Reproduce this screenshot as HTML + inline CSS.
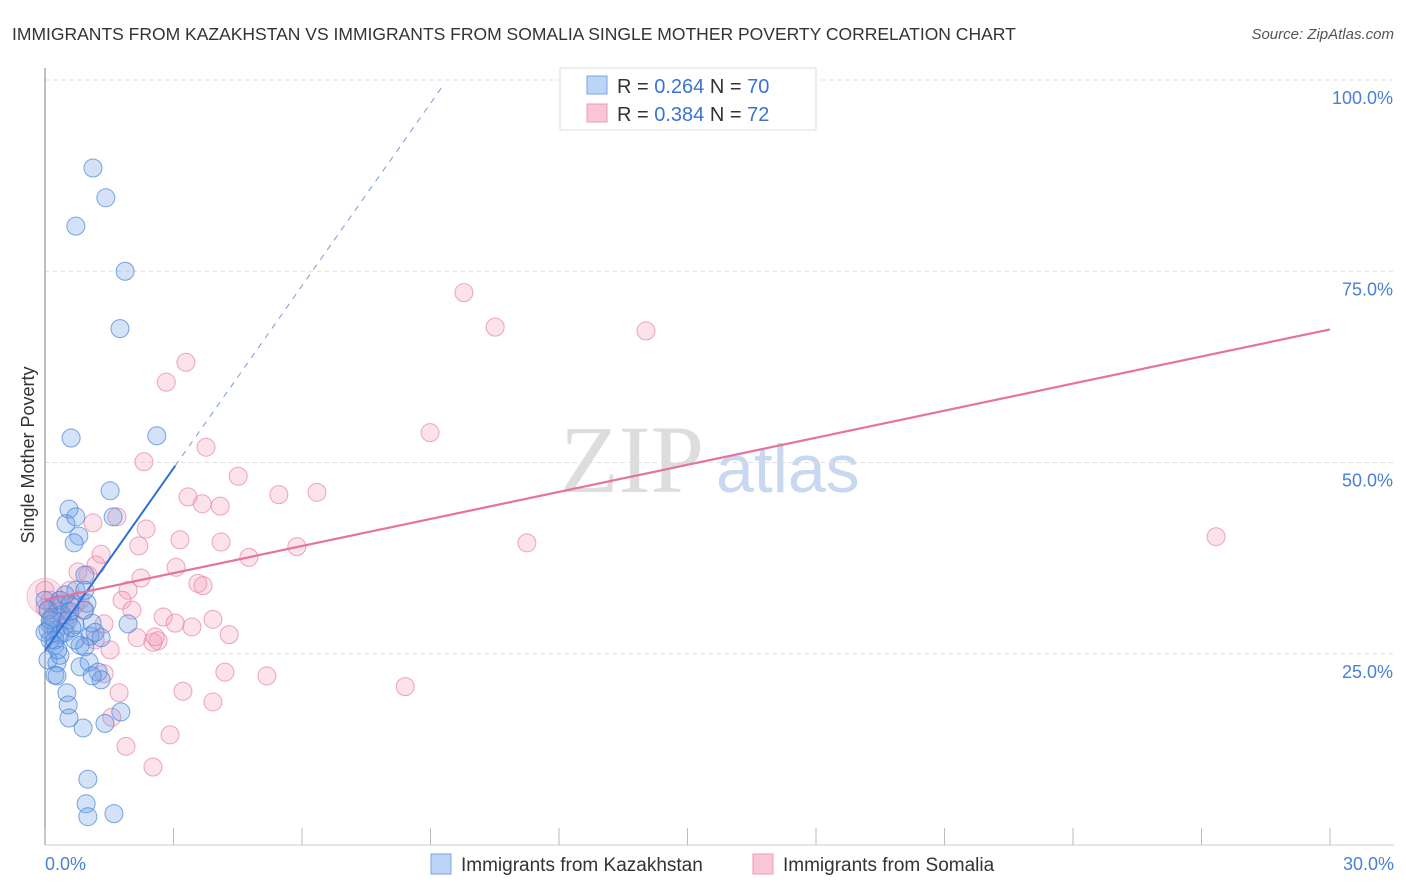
<!DOCTYPE html>
<html><head><meta charset="utf-8"><style>
body{margin:0;background:#fff;font-family:"Liberation Sans",sans-serif;}
svg{display:block}
</style></head><body>
<svg width="1406" height="892">
<text x="12" y="40" font-size="17.5" fill="#333">IMMIGRANTS FROM KAZAKHSTAN VS IMMIGRANTS FROM SOMALIA SINGLE MOTHER POVERTY CORRELATION CHART</text>
<text x="1394" y="39" font-size="15" fill="#555" font-style="italic" text-anchor="end">Source: ZipAtlas.com</text>
<text x="560" y="492" font-size="96" fill="#ddd" font-family="Liberation Serif,serif">ZIP</text>
<text x="716" y="492" font-size="68" fill="#c8d8f0">atlas</text>
<g id="grid"></g>
<line x1="45" y1="68" x2="45" y2="845" stroke="#aaa" stroke-width="1.5"/>
<line x1="45" y1="845" x2="1394" y2="845" stroke="#ccc"/>
<g id="xticks"></g>
<text transform="translate(34,455) rotate(-90)" font-size="18" fill="#333" text-anchor="middle">Single Mother Poverty</text>
<g id="pts"></g>
<g id="lines"></g>
<g>
<rect x="560" y="68" width="256" height="62" fill="#fff" stroke="#ddd"/>
<rect x="587" y="76" width="20" height="18" fill="#bcd4f5" stroke="#7aa5e5"/>
<rect x="587" y="104" width="20" height="18" fill="#f8c6d6" stroke="#eb9ab5"/>
<text x="617" y="93" font-size="20" fill="#333">R = <tspan fill="#3a74d0">0.264</tspan>   N = <tspan fill="#3a74d0">70</tspan></text>
<text x="617" y="121" font-size="20" fill="#333">R = <tspan fill="#3a74d0">0.384</tspan>   N = <tspan fill="#3a74d0">72</tspan></text>
</g>
<g>
<rect x="431" y="854" width="20" height="20" fill="#bcd4f5" stroke="#7aa5e5"/>
<text x="461" y="871" font-size="19" fill="#333">Immigrants from Kazakhstan</text>
<rect x="753" y="854" width="20" height="20" fill="#f8c6d6" stroke="#eb9ab5"/>
<text x="783" y="871" font-size="19" fill="#333">Immigrants from Somalia</text>
</g>
</svg>
<script>
const yTicks=[25,50,75,100];
const yTickLabels=["25.0%","50.0%","75.0%","100.0%"];
const xTicks=[0,3,6,9,12,15,18,21,24,27,30];
const blueX=[1.12,1.42,0.72,1.87,1.75,0.61,2.61,1.52,0.56,1.59,0.49,0.72,0.79,0.68,0.93,0.72,0.98,0.91,0.30,0.40,0.54,0.12,0.26,0.35,0.47,1.10,1.94,1.05,1.31,0.82,0.93,0.12,0.23,0.07,0.28,0.82,1.03,1.24,1.31,1.10,0.23,0.28,0.51,0.54,0.56,0.89,1.40,1.77,1.00,0.96,1.00,1.61,0.0,0.07,0.16,0.35,0.58,0.07,0.58,0.70,1.17,0.0,0.35,0.70,0.93,0.47,0.23,0.12,0.63,0.30];
const blueY=[88.5,84.6,80.9,75.0,67.5,53.2,53.5,46.3,43.9,42.9,42.0,42.9,40.4,39.5,35.3,33.3,31.6,30.7,31.4,30.1,29.4,28.8,28.1,27.5,27.8,29.0,28.9,27.3,27.1,26.1,25.9,26.8,26.1,24.2,23.8,23.3,23.9,22.6,21.6,22.1,22.2,22.1,19.9,18.3,16.6,15.3,15.9,17.4,8.6,5.4,3.7,4.1,32.0,30.7,29.7,32.0,31.4,28.1,30.5,28.8,27.8,27.8,24.8,26.8,33.3,32.7,26.8,29.4,28.4,25.5];
const pinkX=[9.78,10.51,14.03,3.29,2.83,8.99,2.31,3.76,4.51,3.34,5.46,6.35,3.67,4.09,2.36,1.68,1.12,11.25,27.34,3.15,2.19,4.11,1.31,5.88,4.76,3.06,2.24,0.77,1.19,1.00,3.57,3.69,1.94,0.58,1.80,2.03,2.76,3.92,3.04,3.43,1.38,4.30,2.15,2.64,2.52,2.57,0.0,0.07,0.23,0.40,0.58,0.82,4.20,1.38,5.18,3.22,8.41,1.73,3.92,1.56,1.89,2.92,2.52,0.35,0.47,0.93,0.12,0.70,0.30,1.17,1.52,0.0];
const pinkY=[72.2,67.7,67.2,63.1,60.5,53.9,50.1,52.0,48.2,45.5,45.8,46.1,44.6,44.3,41.3,42.9,42.1,39.5,40.3,39.9,39.1,39.6,38.0,39.0,37.6,36.3,34.9,35.7,36.6,35.3,34.2,33.9,33.3,33.3,32.0,30.7,29.8,29.5,29.0,28.5,28.9,27.5,27.1,26.7,26.5,27.2,33.3,30.7,29.4,31.4,30.1,32.0,22.6,22.4,22.1,20.1,20.7,19.9,18.7,16.7,12.9,14.4,10.2,32.0,28.8,30.7,32.0,31.4,30.5,26.8,25.5,31.0];
const blueFit=[25.4,0.057,49.5,3.04,10.1,22.7]; // intercept,?; see below
const blueLine={b0:25.4,b1:7.95,solidTo:3.04,dashTo:9.25};
const pinkLine={b0:32.0,b1:1.18,to:30};
const NS="http://www.w3.org/2000/svg";
const X=v=>45+v*(1285/30), Y=v=>845-v*7.65;
function mk(t,a,p){const e=document.createElementNS(NS,t);for(const k in a)e.setAttribute(k,a[k]);p.appendChild(e);return e;}
const grid=document.getElementById('grid');
yTicks.forEach((t,i)=>{
 const l=mk('line',{x1:45,x2:1394,y1:Y(t),y2:Y(t),stroke:'#ddd','stroke-dasharray':'4,4'},grid);
 
 
 const tx=mk('text',{x:1393,y:Y(t)+24,'font-size':18,fill:'#4a7fd4','text-anchor':'end'},grid);
 tx.textContent=yTickLabels[i];
 
 
});
const xt=document.getElementById('xticks');
xTicks.forEach(t=>{
 const l=mk('line',{x1:X(t),x2:X(t),y1:828,y2:845,stroke:'#bbb'},xt);
 
 
});
[[0,"0.0%",'start',45],[30,"30.0%",'end',1394]].forEach(d=>{
 const tx=mk('text',{x:d[3],y:870,'font-size':18,fill:'#4a7fd4','text-anchor':d[2]},xt);
 tx.textContent=d[1];
 
 
});
const pts=document.getElementById('pts');
const big=mk('circle',{cx:X(0),cy:Y(32.5),r:18,fill:'rgba(240,150,180,0.25)',stroke:'rgba(232,140,170,0.5)'},pts);


pinkX.forEach((x,i)=>{
 const c=mk('circle',{cx:X(x),cy:Y(pinkY[i]),r:9,fill:'rgba(244,160,190,0.3)',stroke:'rgba(230,130,165,0.7)','stroke-width':1},pts);
 
 
});
blueX.forEach((x,i)=>{
 const c=mk('circle',{cx:X(x),cy:Y(blueY[i]),r:9,fill:'rgba(110,160,230,0.3)',stroke:'rgba(70,130,215,0.7)','stroke-width':1},pts);
 
 
});
const lines=document.getElementById('lines');
const by=v=>blueLine.b0+blueLine.b1*v;
let l1=mk('line',{x1:X(0),y1:Y(by(0)),x2:X(blueLine.solidTo),y2:Y(by(blueLine.solidTo)),stroke:'#2f6fd6','stroke-width':2},lines);


let l2=mk('line',{x1:X(blueLine.solidTo),y1:Y(by(blueLine.solidTo)),x2:X(blueLine.dashTo),y2:Y(by(blueLine.dashTo)),stroke:'#7a9ad8','stroke-width':1,'stroke-dasharray':'6,6'},lines);


const py=v=>pinkLine.b0+pinkLine.b1*v;
let l3=mk('line',{x1:X(0),y1:Y(py(0)),x2:X(pinkLine.to),y2:Y(py(pinkLine.to)),stroke:'#e5739c','stroke-width':2.2},lines);


</script>
</body></html>
